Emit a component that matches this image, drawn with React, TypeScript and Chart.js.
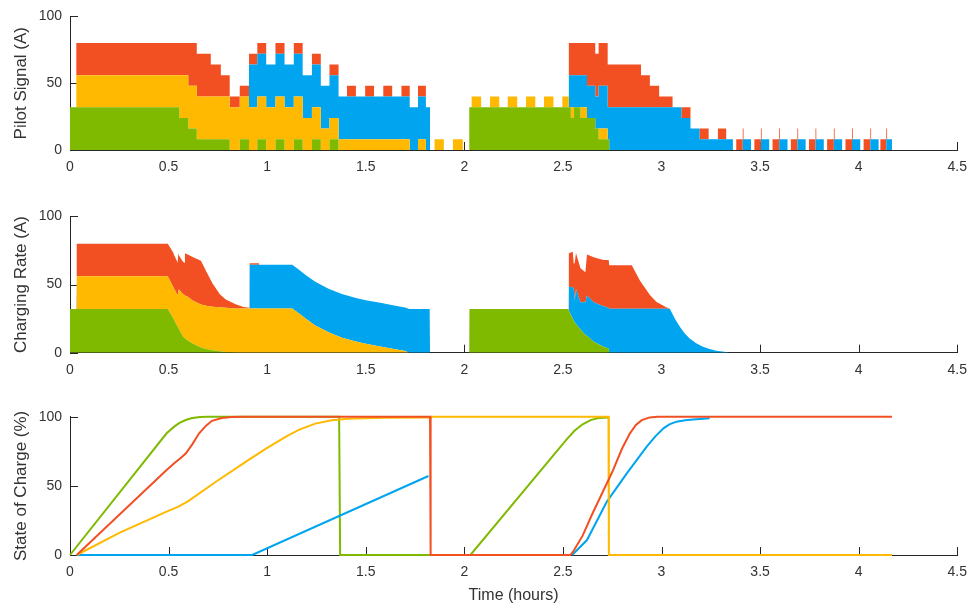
import React, { useEffect, useRef } from "react";
import { Chart, registerables } from "chart.js";

Chart.register(...registerables);

const GREEN = "#7FBA00";
const YELLOW = "#FFB900";
const BLUE = "#00A4EF";
const ORANGE = "#F25022";
const AXIS = "#262626";
const TEXT = "#333333";
const FONT = "'Liberation Sans', Arial, Helvetica, sans-serif";

const X_TICK_VALUES = [0, 0.5, 1, 1.5, 2, 2.5, 3, 3.5, 4, 4.5];
const X_TICK_LABELS = ["0", "0.5", "1", "1.5", "2", "2.5", "3", "3.5", "4", "4.5"];
const Y_TICK_VALUES = [0, 50, 100];
const Y_TICK_LABELS = ["0", "50", "100"];

// ---------- Panel 1: Pilot Signal (A), stepped stacked areas ----------
const pilotTime = [
  0.0, 0.032, 0.555, 0.6, 0.643, 0.714, 0.765, 0.81, 0.861, 0.908,
  0.95, 0.995, 1.042, 1.088, 1.135, 1.18, 1.227, 1.272, 1.316, 1.362,
  1.405, 1.45, 1.497, 1.542, 1.589, 1.634, 1.681, 1.723, 1.765, 1.805,
  1.826, 1.849, 1.896, 1.942, 1.992, 2.025, 2.037, 2.085, 2.13, 2.177,
  2.22, 2.268, 2.313, 2.36, 2.404, 2.452, 2.497, 2.53, 2.54, 2.556,
  2.589, 2.622, 2.664, 2.681, 2.727, 2.735, 2.896, 2.941, 2.988, 3.056,
  3.101, 3.147, 3.193, 3.239, 3.286, 3.328, 3.362, 3.379, 3.412, 3.416,
  3.454, 3.471, 3.504, 3.508, 3.546, 3.563, 3.597, 3.601, 3.639, 3.656,
  3.689, 3.693, 3.731, 3.748, 3.781, 3.785, 3.823, 3.84, 3.874, 3.878,
  3.916, 3.933, 3.966, 3.97, 4.008, 4.025, 4.059, 4.063, 4.101, 4.11,
  4.14, 4.144, 4.169,
];
const pilotGreen = [
  32, 32, 24, 16, 8, 8, 8, 0, 8, 0,
  8, 0, 8, 0, 8, 0, 8, 0, 8, 0,
  0, 0, 0, 0, 0, 0, 0, 0, 0, 0,
  0, 0, 0, 0, 0, 32, 32, 32, 32, 32,
  32, 32, 32, 32, 32, 32, 32, 32, 24, 32,
  24, 24, 16, 8, 8, 0, 0, 0, 0, 0,
  0, 0, 0, 0, 0, 0, 0, 0, 0, 0,
  0, 0, 0, 0, 0, 0, 0, 0, 0, 0,
  0, 0, 0, 0, 0, 0, 0, 0, 0, 0,
  0, 0, 0, 0, 0, 0, 0, 0, 0, 0,
  0, 0, 0,
];
const pilotYellow = [
  0, 24, 32, 32, 32, 32, 32, 32, 32, 32,
  32, 32, 32, 32, 32, 24, 24, 16, 16, 8,
  8, 8, 8, 8, 8, 8, 8, 0, 8, 0,
  0, 8, 0, 8, 0, 0, 8, 0, 8, 0,
  8, 0, 8, 0, 8, 0, 8, 0, 8, 0,
  8, 0, 0, 8, 0, 0, 0, 0, 0, 0,
  0, 0, 0, 0, 0, 0, 0, 0, 0, 0,
  0, 0, 0, 0, 0, 0, 0, 0, 0, 0,
  0, 0, 0, 0, 0, 0, 0, 0, 0, 0,
  0, 0, 0, 0, 0, 0, 0, 0, 0, 0,
  0, 0, 0,
];
const pilotBlue = [
  0, 0, 0, 0, 0, 0, 0, 0, 0, 32,
  32, 32, 32, 32, 32, 32, 32, 32, 32, 32,
  32, 32, 32, 32, 32, 32, 32, 32, 32, 32,
  0, 0, 0, 0, 0, 0, 0, 0, 0, 0,
  0, 0, 0, 0, 0, 0, 0, 24, 24, 24,
  24, 24, 24, 32, 24, 32, 32, 32, 32, 32,
  24, 16, 8, 8, 8, 8, 0, 0, 8, 8,
  0, 0, 8, 8, 0, 0, 8, 8, 0, 0,
  8, 8, 0, 0, 8, 8, 0, 0, 8, 8,
  0, 0, 8, 8, 0, 0, 8, 8, 0, 0,
  8, 8, 0,
];
const pilotOrange = [
  0, 24, 24, 32, 32, 24, 16, 8, 8, 8,
  8, 0, 8, 0, 8, 0, 8, 0, 8, 0,
  8, 0, 8, 0, 8, 0, 8, 0, 8, 0,
  0, 0, 0, 0, 0, 0, 0, 0, 0, 0,
  0, 0, 0, 0, 0, 0, 0, 24, 24, 24,
  24, 32, 32, 32, 32, 32, 24, 16, 8, 0,
  8, 0, 8, 0, 8, 0, 0, 8, 8, 0,
  0, 8, 8, 0, 0, 8, 8, 0, 0, 8,
  8, 0, 0, 8, 8, 0, 0, 8, 8, 0,
  0, 8, 8, 0, 0, 8, 8, 0, 0, 8,
  8, 0, 0,
];

// ---------- Panel 2: Charging Rate (A), stacked areas ----------
const rateTime = [
  0.0, 0.033, 0.034, 0.496, 0.521, 0.546, 0.549, 0.552, 0.572, 0.58,
  0.583, 0.597, 0.622, 0.664, 0.69, 0.723, 0.76, 0.79, 0.84, 0.88,
  0.91, 0.911, 0.958, 0.96, 1.127, 1.16, 1.2, 1.244, 1.311, 1.379,
  1.45, 1.5, 1.58, 1.65, 1.7, 1.72, 1.824, 1.826, 2.025, 2.026,
  2.525, 2.529, 2.53, 2.55, 2.555, 2.56, 2.566, 2.589, 2.614, 2.622,
  2.656, 2.706, 2.732, 2.735, 2.849, 2.891, 2.942, 2.975, 3.026, 3.042,
  3.068, 3.093, 3.118, 3.143, 3.176, 3.21, 3.244, 3.278, 3.328, 3.34,
];
const rateGreen = [
  32, 32, 32, 32, 26, 19, 18, 17.5, 12, 11,
  10.5, 9, 6.8, 3.9, 2.8, 1.8, 1.0, 0.5, 0, 0,
  0, 0, 0, 0, 0, 0, 0, 0, 0, 0,
  0, 0, 0, 0, 0, 0, 0, 0, 0, 32,
  32, 31.5, 31, 25, 23.7, 22, 21, 17, 13, 12.5,
  8, 4.4, 3, 0, 0, 0, 0, 0, 0, 0,
  0, 0, 0, 0, 0, 0, 0, 0, 0, 0,
];
const rateYellow = [
  0, 0, 24, 24, 23, 23, 27, 29, 31, 31.5,
  31.5, 32, 31.5, 31.5, 31.7, 32, 32.3, 32.5, 32.5, 32.5,
  32.5, 32.5, 32.5, 32.5, 32.5, 29, 24.5, 20, 15, 11,
  8.2, 6.5, 4.4, 2.5, 1.2, 0, 0, 0, 0, 0,
  0, 0, 0, 0, 0, 0, 0, 0, 0, 0,
  0, 0, 0, 0, 0, 0, 0, 0, 0, 0,
  0, 0, 0, 0, 0, 0, 0, 0, 0, 0,
];
const rateBlue = [
  0, 0, 0, 0, 0, 0, 0, 0, 0, 0,
  0, 0, 0, 0, 0, 0, 0, 0, 0, 0,
  0, 32, 32, 32, 32, 32, 32, 32, 32, 32,
  32, 32, 32, 32, 32, 32, 32, 0, 0, 0,
  0, 0, 17.4, 23, 23.3, 16, 25.7, 20, 24, 29.5,
  29, 29.6, 30, 32.2, 32.2, 32.2, 32.2, 32.2, 32.2, 32.2,
  25, 19, 14, 10.4, 7, 4.4, 2.7, 1.5, 0.5, 0,
];
const rateOrange = [
  0, 0, 24, 24, 25, 24, 28, 25, 24, 23.5,
  31, 31, 32, 32, 25.5, 17, 9.5, 6, 3, 1,
  0.5, 1.2, 1.2, 0, 0, 0, 0, 0, 0, 0,
  0, 0, 0, 0, 0, 0, 0, 0, 0, 0,
  0, 0, 24.5, 26, 18, 28, 26.5, 25, 22, 30,
  33, 34, 35, 32, 32, 20.6, 10, 5, 1, 0,
  0, 0, 0, 0, 0, 0, 0, 0, 0, 0,
];

// ---------- Panel 3: State of Charge (%), lines ----------
const socGreenTime = [0, 0.49, 0.53, 0.555, 0.59, 0.62, 0.66, 0.7, 1.365, 1.37, 2.031, 2.521, 2.56, 2.6, 2.64, 2.68, 2.735];
const socGreen = [0, 88, 93, 95.5, 97.8, 99, 99.7, 100, 100, 0, 0, 84, 90, 94.5, 97.5, 99, 99.5];

const socOrangeTime = [0.034, 0.49, 0.53, 0.56, 0.588, 0.62, 0.655, 0.69, 0.72, 0.77, 0.82, 0.87, 1.826, 1.829, 2.538, 2.55, 2.6, 2.65, 2.7, 2.75, 2.8, 2.84, 2.87, 2.9, 2.94, 2.98, 4.169];
const socOrange = [0, 61.4, 66.5, 70, 73.5, 80, 88, 93.5, 97, 99, 99.7, 100, 100, 0, 0, 2, 14, 30, 45, 60, 77, 88, 94, 97.5, 99.5, 100, 100];

const socYellowTime = [0.034, 0.25, 0.49, 0.55, 0.6, 0.74, 0.908, 1.0, 1.1, 1.16, 1.244, 1.328, 1.41, 1.497, 1.6, 1.826, 1.83, 2.731, 2.733, 4.169];
const socYellow = [0, 16, 31.3, 35, 39, 53, 69, 77.5, 86, 90.5, 95, 97.5, 98.5, 98.8, 99.2, 99.5, 100, 100, 0, 0];

const socBlueTime = [0.034, 0.924, 1.818, 1.82, 2.547, 2.622, 2.723, 2.824, 2.925, 2.97, 3.01, 3.04, 3.076, 3.12, 3.16, 3.244];
const socBlue = [0, 0, 57.1, null, 0, 10.8, 38.6, 59, 78.3, 86, 91.6, 94.5, 96.4, 97.5, 98, 98.8];

const TICK_LEN = 8;

const innerTicks = {
  id: "innerTicks",
  beforeDatasetsDraw(chart: any) {
    const { ctx, chartArea, scales } = chart;
    const xs = scales.x;
    const ys = scales.y;
    ctx.save();
    ctx.strokeStyle = AXIS;
    ctx.lineWidth = 1;
    ctx.beginPath();
    xs.ticks.forEach((t: any) => {
      const px = Math.round(xs.getPixelForValue(t.value)) + 0.5;
      ctx.moveTo(px, chartArea.bottom);
      ctx.lineTo(px, chartArea.bottom - TICK_LEN);
    });
    ys.ticks.forEach((t: any) => {
      const py = Math.round(ys.getPixelForValue(t.value)) + 0.5;
      ctx.moveTo(chartArea.left, py);
      ctx.lineTo(chartArea.left + TICK_LEN, py);
    });
    ctx.stroke();
    ctx.restore();
  },
};

function buildOptions(p: { yTitle: string; padTop: number; xHeight: number; stacked: boolean; xTitle?: string }) {
  return {
    responsive: false,
    maintainAspectRatio: false,
    animation: false as const,
    devicePixelRatio: 1,
    layout: { padding: { top: p.padTop, right: 14, bottom: 0, left: 0 } },
    plugins: { legend: { display: false }, tooltip: { enabled: false } },
    elements: { point: { radius: 0, hoverRadius: 0 }, line: { tension: 0 } },
    scales: {
      x: {
        type: "linear",
        min: 0,
        max: 4.5,
        grid: { display: false, drawTicks: false },
        border: { display: true, color: AXIS, width: 1 },
        ticks: {
          color: TEXT,
          font: { family: FONT, size: 14 },
          padding: 9,
          maxRotation: 0,
          autoSkip: false,
          callback: (v: number) => {
            const i = X_TICK_VALUES.indexOf(v);
            return i >= 0 ? X_TICK_LABELS[i] : "";
          },
        },
        afterBuildTicks: (s: any) => {
          s.ticks = X_TICK_VALUES.map((v) => ({ value: v }));
        },
        afterFit: (s: any) => {
          s.height = p.xHeight;
        },
        title: p.xTitle
          ? { display: true, text: p.xTitle, color: TEXT, font: { family: FONT, size: 16 }, padding: { top: 0, bottom: 2 } }
          : { display: false },
      },
      y: {
        type: "linear",
        min: 0,
        max: 100,
        stacked: p.stacked,
        grid: { display: false, drawTicks: false },
        border: { display: true, color: AXIS, width: 1 },
        ticks: {
          color: TEXT,
          font: { family: FONT, size: 14 },
          padding: 8,
          callback: (v: number) => {
            const i = Y_TICK_VALUES.indexOf(v);
            return i >= 0 ? Y_TICK_LABELS[i] : "";
          },
        },
        afterBuildTicks: (s: any) => {
          s.ticks = Y_TICK_VALUES.map((v) => ({ value: v }));
        },
        afterFit: (s: any) => {
          s.width = 70;
        },
        title: { display: true, text: p.yTitle, color: TEXT, font: { family: FONT, size: 17 }, padding: { top: 11, bottom: 0 } },
      },
    },
  };
}

function areaSet(label: string, times: number[], vals: number[], color: string, first: boolean, stepped: boolean) {
  return {
    label,
    data: times.map((t, i) => ({ x: t, y: vals[i] })),
    backgroundColor: color,
    borderColor: "rgba(0,0,0,0)",
    borderWidth: 0,
    pointRadius: 0,
    fill: first ? "origin" : "-1",
    stepped: stepped ? ("before" as const) : false,
  };
}

function lineSet(label: string, times: number[], vals: (number | null)[], color: string, order: number) {
  return {
    label,
    data: times.map((t, i) => ({ x: t, y: vals[i] })),
    borderColor: color,
    backgroundColor: color,
    borderWidth: 2,
    pointRadius: 0,
    fill: false,
    order,
    clip: 5,
    spanGaps: false,
  };
}

export default function App() {
  const r1 = useRef<HTMLCanvasElement>(null);
  const r2 = useRef<HTMLCanvasElement>(null);
  const r3 = useRef<HTMLCanvasElement>(null);

  useEffect(() => {
    const c1 = new Chart(r1.current as HTMLCanvasElement, {
      type: "line",
      data: {
        datasets: [
          areaSet("EV 1", pilotTime, pilotGreen, GREEN, true, true),
          areaSet("EV 2", pilotTime, pilotYellow, YELLOW, false, true),
          areaSet("EV 3", pilotTime, pilotBlue, BLUE, false, true),
          areaSet("EV 4", pilotTime, pilotOrange, ORANGE, false, true),
        ],
      },
      options: buildOptions({ yTitle: "Pilot Signal (A)", padTop: 13.3, xHeight: 35, stacked: true }) as any,
      plugins: [innerTicks],
    } as any);

    const c2 = new Chart(r2.current as HTMLCanvasElement, {
      type: "line",
      data: {
        datasets: [
          areaSet("EV 1", rateTime, rateGreen, GREEN, true, false),
          areaSet("EV 2", rateTime, rateYellow, YELLOW, false, false),
          areaSet("EV 3", rateTime, rateBlue, BLUE, false, false),
          areaSet("EV 4", rateTime, rateOrange, ORANGE, false, false),
        ],
      },
      options: buildOptions({ yTitle: "Charging Rate (A)", padTop: 15, xHeight: 32.3, stacked: true }) as any,
      plugins: [innerTicks],
    } as any);

    const c3 = new Chart(r3.current as HTMLCanvasElement, {
      type: "line",
      data: {
        datasets: [
          lineSet("EV 1", socGreenTime, socGreen, GREEN, 3),
          lineSet("EV 2", socYellowTime, socYellow, YELLOW, 1),
          lineSet("EV 3", socBlueTime, socBlue, BLUE, 2),
          lineSet("EV 4", socOrangeTime, socOrange, ORANGE, 0),
        ],
      },
      options: buildOptions({ yTitle: "State of Charge (%)", padTop: 16.7, xHeight: 52, stacked: false, xTitle: "Time (hours)" }) as any,
      plugins: [innerTicks],
    } as any);

    return () => {
      c1.destroy();
      c2.destroy();
      c3.destroy();
    };
  }, []);

  return (
    <div style={{ position: "absolute", left: 0, top: 0, width: 976, height: 607, background: "#ffffff" }}>
      <canvas ref={r1} width={976} height={185} style={{ position: "absolute", left: 0, top: 0, width: 976, height: 185 }} />
      <canvas ref={r2} width={976} height={185} style={{ position: "absolute", left: 0, top: 200, width: 976, height: 185 }} />
      <canvas ref={r3} width={976} height={207} style={{ position: "absolute", left: 0, top: 400, width: 976, height: 207 }} />
    </div>
  );
}
